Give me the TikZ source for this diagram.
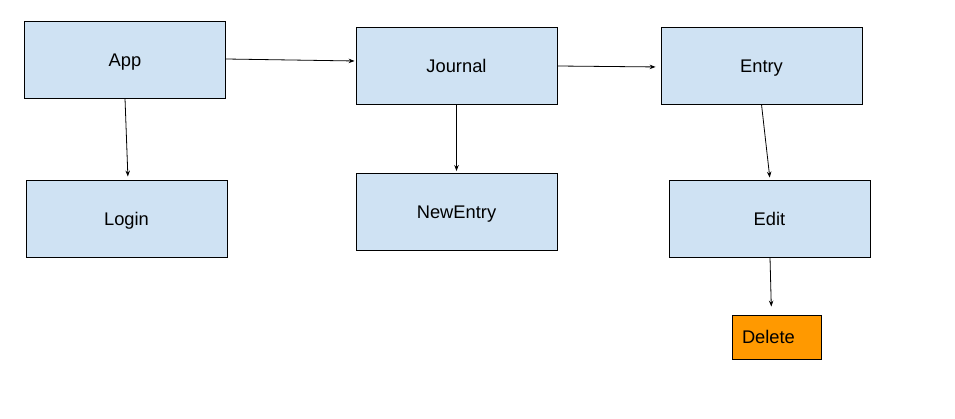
\documentclass[tikz,border=0pt]{standalone}
\usepackage{fontspec}
\setmainfont{Liberation Sans}
\usetikzlibrary{arrows.meta}
\definecolor{boxblue}{HTML}{CFE2F3}
\definecolor{boxorange}{HTML}{FF9900}
\begin{document}
\begin{tikzpicture}[x=1pt,y=-1pt,
  lbl/.style={font=\fontsize{18.3}{22}\selectfont,text height=13.1pt,text depth=0pt},
  box/.style={lbl,draw=black,line width=0.9pt,fill=boxblue,minimum width=201pt,minimum height=77pt,inner sep=0pt},
  conn/.style={line width=0.8pt,-{Stealth[length=6pt,width=4.5pt]}},
  every node/.style={anchor=center}]
\useasboundingbox (0,0) rectangle (955,419);
\fill[white] (0,0) rectangle (955,419);
\node[box] (app) at (125,59.5) {App};
\node[box] (login) at (126.5,218.5) {Login};
\node[box] (journal) at (456.5,65.5) {Journal};
\node[box] (newentry) at (456.5,211.5) {NewEntry};
\node[box] (entry) at (761.5,65.5) {Entry};
\node[box] (edit) at (769.5,218.5) {Edit};
\node[lbl,draw=black,line width=0.9pt,fill=boxorange,minimum width=89pt,minimum height=44pt,inner sep=0pt,
  text width=69pt,align=left] (delete) at (776.5,337) {Delete};
\draw[conn,shorten >=3pt] (app.south) -- ([xshift=1.5pt]login.north);
\draw[conn,shorten >=1pt] ([yshift=0.5pt]app.east) -- ([yshift=4.5pt]journal.west);
\draw[conn,shorten >=2pt] (journal.south) -- ([yshift=-0.5pt]newentry.north);
\draw[conn,shorten >=5pt] ([yshift=-0.5pt]journal.east) -- ([yshift=-1.5pt]entry.west);
\draw[conn,shorten >=2pt] (entry.south) -- ([xshift=0.5pt]edit.north);
\draw[conn,shorten >=8pt] ([xshift=0.5pt]edit.south) -- ([xshift=-5pt]delete.north);
\end{tikzpicture}
\end{document}
